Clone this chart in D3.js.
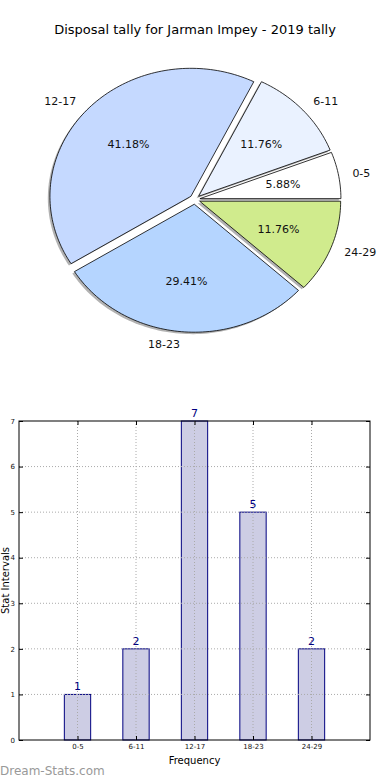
<!DOCTYPE html>
<html>
<head>
<meta charset="utf-8">
<script src="https://cdn.jsdelivr.net/npm/d3@7"></script>
<style>
  body { margin: 0; background: #fff; }
  text { font-family: "DejaVu Sans", sans-serif; }
</style>
</head>
<body>
<script>
// chart data
const categories = ["0-5", "6-11", "12-17", "18-23", "24-29"];
const counts = [1, 2, 7, 5, 2];
const pieColors = ["#ffffff", "#eaf2ff", "#c5d9ff", "#b5d5ff", "#d0eb8d"];
const yTicks = [0, 1, 2, 3, 4, 5, 6, 7];
const title = "Disposal tally for Jarman Impey - 2019 tally";

const W = 390, H = 780;
const svg = d3.select("body").append("svg")
    .attr("width", W)
    .attr("height", H);

// title
svg.append("text")
    .attr("x", 195)
    .attr("y", 34)
    .attr("text-anchor", "middle")
    .style("font-size", "13px")
    .text(title);

// ---------- pie (stretched like the original axes) ----------
const cx = 194.8, cy = 199.5, rx = 141, ry = 128;
const px = d3.scaleLinear().domain([-1, 1]).range([cx - rx, cx + rx]);
const py = d3.scaleLinear().domain([-1, 1]).range([cy + ry, cy - ry]);
const explode = 0.037;
const shadowOff = 0.015;

// angles counter-clockwise from 3 o'clock, as matplotlib does
const arcs = d3.pie().sort(null).startAngle(0).endAngle(2 * Math.PI)(counts);
const total = d3.sum(counts);

const line = d3.line().x(d => px(d[0])).y(d => py(d[1]));

function wedgePoints(a, ox, oy) {
  const n = Math.max(8, Math.ceil((a.endAngle - a.startAngle) * 40));
  const pts = [[ox, oy]];
  for (let i = 0; i <= n; i++) {
    const t = a.startAngle + (a.endAngle - a.startAngle) * i / n;
    pts.push([ox + Math.cos(t), oy + Math.sin(t)]);
  }
  pts.push([ox, oy]);
  return pts;
}

const pieG = svg.append("g");
arcs.forEach((a, i) => {
  const mid = (a.startAngle + a.endAngle) / 2;
  const ox = explode * Math.cos(mid), oy = explode * Math.sin(mid);

  pieG.append("path")
      .attr("d", line(wedgePoints(a, ox - shadowOff, oy - shadowOff)))
      .attr("fill", "#666")
      .attr("fill-opacity", 0.5)
      .attr("stroke", "none");

  pieG.append("path")
      .attr("d", line(wedgePoints(a, ox, oy)))
      .attr("fill", pieColors[i])
      .attr("stroke", "#000")
      .attr("stroke-width", 0.8)
      .attr("stroke-linejoin", "round");

  // outer label
  const lx = ox + 1.1 * Math.cos(mid), ly = oy + 1.1 * Math.sin(mid);
  pieG.append("text")
      .attr("x", px(lx))
      .attr("y", py(ly))
      .attr("dy", "0.35em")
      .attr("text-anchor", lx < ox ? "end" : "start")
      .style("font-size", "11px")
      .attr("fill", "#111")
      .text(categories[i]);

  // percentage
  const tx = ox + 0.6 * Math.cos(mid), ty = oy + 0.6 * Math.sin(mid);
  pieG.append("text")
      .attr("x", px(tx))
      .attr("y", py(ty))
      .attr("dy", "0.35em")
      .attr("text-anchor", "middle")
      .style("font-size", "11px")
      .attr("fill", "#111")
      .text((100 * a.data / total).toFixed(2) + "%");
});

// ---------- bar chart ----------
const plotLeft = 19, plotRight = 370, plotTop = 421, plotBottom = 740;
const x = d3.scaleLinear().domain([-1, categories.length]).range([plotLeft, plotRight]);
const y = d3.scaleLinear().domain([0, 7]).range([plotBottom, plotTop]);
const barW = 0.45;

const barG = svg.append("g");

barG.selectAll("rect.bar")
    .data(counts)
  .enter().append("rect")
    .attr("class", "bar")
    .attr("x", (d, i) => x(i - barW / 2))
    .attr("y", d => y(d))
    .attr("width", x(barW) - x(0))
    .attr("height", d => y(0) - y(d))
    .attr("fill", "#cdcde4")
    .attr("stroke", "#000080")
    .attr("stroke-width", 1);

// grid on top of the bars
barG.selectAll("line.hgrid")
    .data(yTicks.slice(1, -1))
  .enter().append("line")
    .attr("x1", plotLeft).attr("x2", plotRight)
    .attr("y1", d => y(d)).attr("y2", d => y(d))
    .attr("stroke", "#aaa")
    .attr("stroke-width", 1)
    .attr("stroke-dasharray", "1,2");

barG.selectAll("line.vgrid")
    .data(categories)
  .enter().append("line")
    .attr("x1", (d, i) => x(i)).attr("x2", (d, i) => x(i))
    .attr("y1", plotTop).attr("y2", plotBottom)
    .attr("stroke", "#aaa")
    .attr("stroke-width", 1)
    .attr("stroke-dasharray", "1,2");

// frame
barG.append("rect")
    .attr("x", plotLeft).attr("y", plotTop)
    .attr("width", plotRight - plotLeft).attr("height", plotBottom - plotTop)
    .attr("fill", "none")
    .attr("stroke", "#000")
    .attr("stroke-width", 1);

// axes with inward ticks
const yAxis = d3.axisLeft(y).tickValues(yTicks).tickFormat(d3.format("d"))
    .tickSizeInner(-4).tickSizeOuter(0).tickPadding(4);
barG.append("g")
    .attr("transform", `translate(${plotLeft},0)`)
    .call(yAxis)
    .call(g => g.select(".domain").remove())
    .call(g => g.selectAll("text").style("font-size", "7px").attr("fill", "#111"));

barG.append("g")
    .attr("transform", `translate(${plotRight},0)`)
    .call(d3.axisRight(y).tickValues(yTicks).tickSizeInner(-4).tickSizeOuter(0).tickFormat(""))
    .call(g => g.select(".domain").remove());

const xAxis = d3.axisBottom(x).tickValues(d3.range(categories.length))
    .tickFormat(i => categories[i]).tickSizeInner(-4).tickSizeOuter(0).tickPadding(4);
barG.append("g")
    .attr("transform", `translate(0,${plotBottom})`)
    .call(xAxis)
    .call(g => g.select(".domain").remove())
    .call(g => g.selectAll("text").style("font-size", "7px").attr("fill", "#111"));

barG.append("g")
    .attr("transform", `translate(0,${plotTop})`)
    .call(d3.axisTop(x).tickValues(d3.range(categories.length)).tickSizeInner(-4).tickSizeOuter(0).tickFormat(""))
    .call(g => g.select(".domain").remove());

// value labels
barG.selectAll("text.val")
    .data(counts)
  .enter().append("text")
    .attr("class", "val")
    .attr("x", (d, i) => x(i))
    .attr("y", d => y(d) - 4)
    .attr("text-anchor", "middle")
    .style("font-size", "11px")
    .attr("fill", "#000080")
    .text(d => d);

// axis labels
svg.append("text")
    .attr("x", (plotLeft + plotRight) / 2)
    .attr("y", 764)
    .attr("text-anchor", "middle")
    .style("font-size", "10px")
    .text("Frequency");

svg.append("text")
    .attr("transform", `translate(5,${(plotTop + plotBottom) / 2}) rotate(-90)`)
    .attr("dy", "0.35em")
    .attr("text-anchor", "middle")
    .style("font-size", "10px")
    .text("Stat Intervals");

// watermark
svg.append("text")
    .attr("x", 0)
    .attr("y", 775)
    .style("font-size", "12px")
    .attr("fill", "#999")
    .text("Dream-Stats.com");
</script>
</body>
</html>
